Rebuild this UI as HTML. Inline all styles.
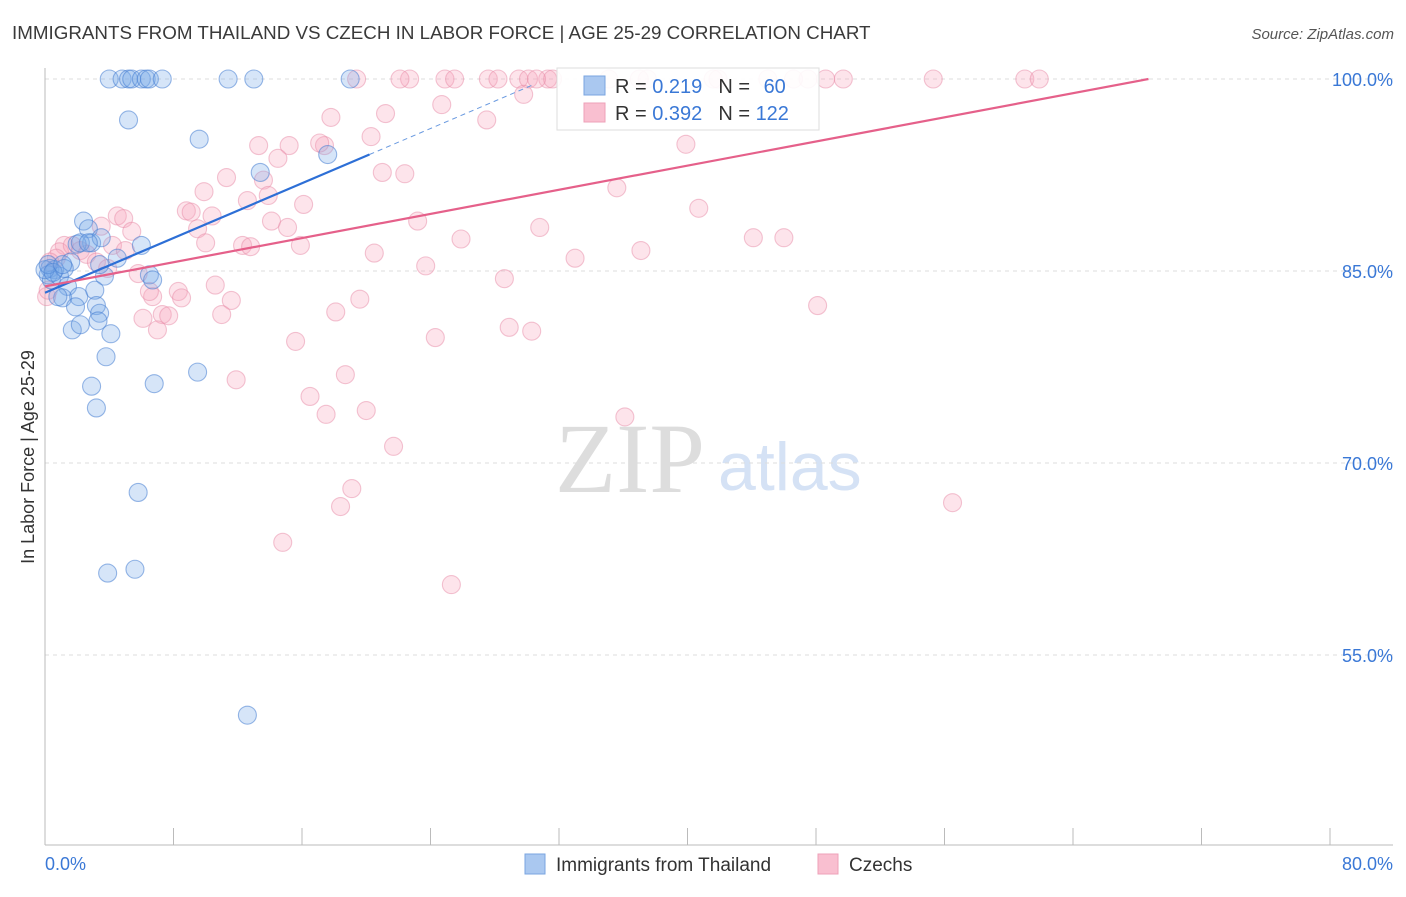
<!DOCTYPE html>
<html><head><meta charset="utf-8"><style>
body{margin:0;background:#fff;font-family:"Liberation Sans",sans-serif}
svg text{font-family:"Liberation Sans",sans-serif}
</style></head><body>
<svg id="c" width="1406" height="892">
<text x="12" y="39" font-size="18.8" fill="#3a3a3a">IMMIGRANTS FROM THAILAND VS CZECH IN LABOR FORCE | AGE 25-29 CORRELATION CHART</text>
<text x="1394" y="39" font-size="15" fill="#555" font-style="italic" text-anchor="end">Source: ZipAtlas.com</text>
<text transform="translate(34,457) rotate(-90)" font-size="18" fill="#333" text-anchor="middle">In Labor Force | Age 25-29</text>
<text x="555" y="492" font-size="100" fill="#ddd" style="font-family:'Liberation Serif',serif">ZIP</text>
<text x="718" y="490" font-size="68" fill="#d5e2f5">atlas</text>
<g id="grid"></g><g id="axes"></g><g id="pts"></g><g id="lines"></g>
<g>
<rect x="557" y="68" width="262" height="62" fill="#fff" fill-opacity="0.9" stroke="#ddd"/>
<rect x="584" y="76" width="21" height="19" fill="#aac8f0" stroke="#7aa5e0"/>
<rect x="584" y="103" width="21" height="19" fill="#f9bfd0" stroke="#eea0b8"/>
<text x="615" y="93" font-size="20" fill="#333">R = <tspan fill="#3a78d6">0.219</tspan><tspan dx="16">N = </tspan><tspan fill="#3a78d6" dx="8">60</tspan></text>
<text x="615" y="120" font-size="20" fill="#333">R = <tspan fill="#3a78d6">0.392</tspan><tspan dx="16">N = </tspan><tspan fill="#3a78d6">122</tspan></text>
</g>
<g>
<rect x="525" y="854" width="20" height="20" fill="#aac8f0" stroke="#7aa5e0"/>
<text x="556" y="871" font-size="19" fill="#333">Immigrants from Thailand</text>
<rect x="818" y="854" width="20" height="20" fill="#f9bfd0" stroke="#eea0b8"/>
<text x="849" y="871" font-size="19" fill="#333">Czechs</text>
</g>
</svg>
<script>
const yTicks=[100,85,70,55];
const yTickLabels=["100.0%","85.0%","70.0%","55.0%"];
const xTickLabels=["0.0%","80.0%"];
const blueX=[4.0,4.8,5.2,5.4,6.0,6.3,6.5,7.3,11.4,13.0,19.0,5.2,9.6,13.4,17.6,2.4,2.7,2.9,3.5,6.0,2.0,0.3,0.6,0.2,0.4,0.9,1.6,1.2,3.7,4.5,1.4,1.1,2.1,3.1,6.5,6.7,1.9,3.2,3.4,3.3,1.7,2.2,4.1,3.8,2.9,3.2,6.8,9.5,5.8,3.9,5.6,12.6,0.8,0,0.2,0.5,3.4,1.1,2.2,2.7];
const blueY=[100,100,100,100,100,100,100,100,100,100,100,96.8,95.3,92.7,94.1,88.9,88.3,87.2,87.6,87.0,87.1,85.2,85.1,84.7,84.3,84.6,85.7,85.2,84.6,86.0,83.8,82.9,83.0,83.5,84.7,84.3,82.2,82.3,81.7,81.1,80.4,80.8,80.1,78.3,76.0,74.3,76.2,77.1,67.7,61.4,61.7,50.3,83.0,85.1,85.5,84.9,85.5,85.5,87.2,87.2];
const pinkX=[19.4,22.7,22.1,24.9,25.5,27.6,28.2,29.5,30.1,31.3,31.6,35.1,37.5,41.9,41.6,45.0,46.6,47.5,48.6,49.7,55.3,61.0,61.9,30.6,37.0,29.8,24.7,27.5,21.2,20.3,17.8,17.4,15.2,13.3,14.5,17.1,39.9,35.6,22.4,21.0,13.6,11.3,9.9,12.6,13.9,16.1,8.8,9.1,10.4,4.5,4.9,5.4,3.5,14.1,15.1,23.2,30.8,40.7,9.5,10.0,12.3,12.8,15.9,25.9,20.5,37.1,44.1,46.0,33.0,23.7,4.2,1.2,0.9,1.7,2.2,2.6,3.2,3.9,0.7,0.3,0.1,0.2,5.8,5.0,28.6,10.6,6.7,6.5,8.3,8.5,11.6,7.3,7.7,6.1,7.0,11.0,18.1,19.6,28.9,30.3,24.3,15.6,48.1,11.9,18.7,16.5,17.5,20.0,21.7,36.1,19.1,18.4,56.5,14.8,25.3];
const pinkY=[100,100,100,100,100,100,100,100,100,100,100,100,100,100,100,100,100,100,100,100,100,100,100,100,100,98.8,98.0,96.8,97.3,95.5,97.0,94.8,94.8,94.8,93.8,95.0,94.9,91.5,92.6,92.7,92.1,92.3,91.2,90.5,90.9,90.2,89.7,89.6,89.3,89.3,89.1,88.1,88.5,88.9,88.4,88.9,88.4,89.9,88.3,87.2,87.0,86.9,87.0,87.5,86.4,86.6,87.6,87.6,86.0,85.4,87.0,87.0,86.5,87.0,86.6,86.3,85.7,85.2,86.0,85.7,83.0,83.5,84.8,86.6,84.4,83.9,83.0,83.4,83.4,82.9,82.7,81.6,81.5,81.3,80.4,81.6,81.8,82.8,80.6,80.3,79.8,79.5,82.3,76.5,76.9,75.2,73.8,74.1,71.3,73.6,68.0,66.6,66.9,63.8,60.5];
const blueTrend=[83.3,94.1,99.5];
const blueTrendX=[0,20.2,30.3];
const pinkTrend=[83.8,100];
const pinkTrendX=[0,68.7];
const NS="http://www.w3.org/2000/svg";
const X=v=>45+v*(1285/80);
const Y=v=>79+(100-v)*12.8;
function mk(tag,attrs,parent){const e=document.createElementNS(NS,tag);for(const k in attrs)e.setAttribute(k,attrs[k]);document.getElementById(parent).appendChild(e);return e;}
yTicks.forEach((t,i)=>{
 const g=mk('line',{x1:45,x2:1393,y1:Y(t),y2:Y(t),stroke:'#ddd','stroke-dasharray':'4,4'},'grid');
 
 
 const l=mk('text',{x:1393,y:Y(t)+7,'font-size':18,fill:'#3a78d6','text-anchor':'end'},'axes');
 l.textContent=yTickLabels[i];
 
 
});
const ax=mk('line',{x1:45,x2:45,y1:68,y2:845,stroke:'#bbb'},'axes');


const bx=mk('line',{x1:45,x2:1393,y1:845,y2:845,stroke:'#bbb'},'axes');


for(let i=0;i<=10;i++){const t=mk('line',{x1:X(i*8),x2:X(i*8),y1:828,y2:845,stroke:'#bbb'},'axes');
 
 }
[[0,45,'start'],[80,1393,'end']].forEach((d,i)=>{const t=mk('text',{x:d[1],y:870,'font-size':18,fill:'#3a78d6','text-anchor':d[2]},'axes');t.textContent=xTickLabels[i];
 
 });
pinkX.forEach((v,i)=>{const c=mk('circle',{cx:X(v),cy:Y(pinkY[i]),r:9,fill:'rgba(247,165,190,0.3)',stroke:'rgba(232,140,168,0.5)','stroke-width':1.1},'pts');
 
 });
blueX.forEach((v,i)=>{const c=mk('circle',{cx:X(v),cy:Y(blueY[i]),r:9,fill:'rgba(120,170,232,0.3)',stroke:'rgba(70,125,210,0.55)','stroke-width':1.1},'pts');
 
 });
const bl=mk('line',{x1:X(blueTrendX[0]),y1:Y(blueTrend[0]),x2:X(blueTrendX[1]),y2:Y(blueTrend[1]),stroke:'#2d6fd6','stroke-width':2.2},'lines');


const bd=mk('line',{x1:X(blueTrendX[1]),y1:Y(blueTrend[1]),x2:X(blueTrendX[2]),y2:Y(blueTrend[2]),stroke:'#6a9ae0','stroke-width':1,'stroke-dasharray':'5,4'},'lines');


const pl=mk('line',{x1:X(pinkTrendX[0]),y1:Y(pinkTrend[0]),x2:X(pinkTrendX[1]),y2:Y(pinkTrend[1]),stroke:'#e5608a','stroke-width':2.2},'lines');


</script>
</body></html>
